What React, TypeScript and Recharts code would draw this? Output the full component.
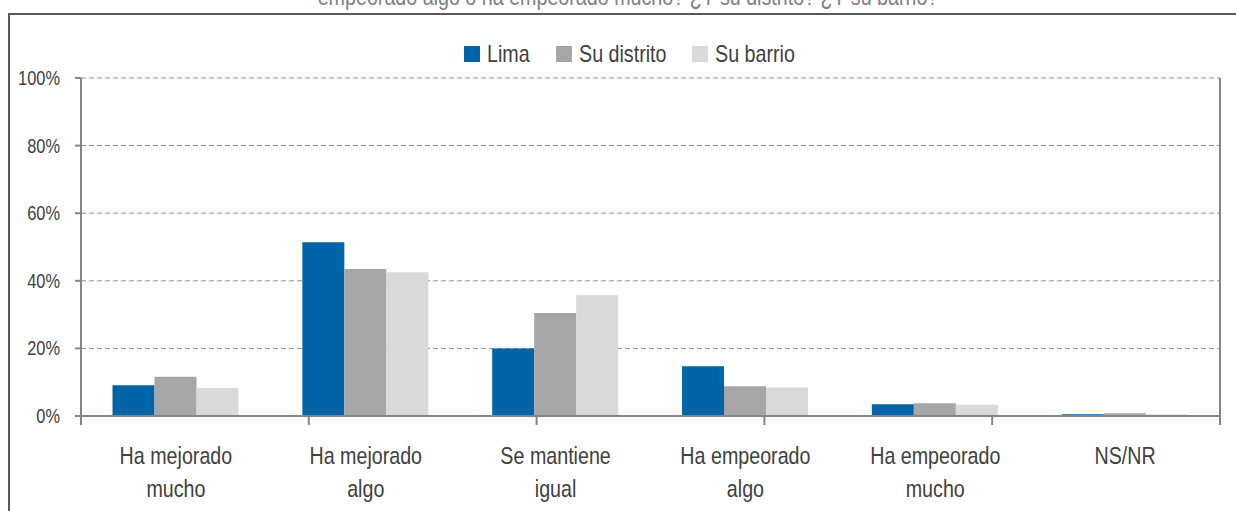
import React from "react";
import {
  BarChart,
  Bar,
  XAxis,
  YAxis,
  CartesianGrid,
  Legend,
} from "recharts";

const categories = [
  "Ha mejorado\nmucho",
  "Ha mejorado\nalgo",
  "Se mantiene\nigual",
  "Ha empeorado\nalgo",
  "Ha empeorado\nmucho",
  "NS/NR",
];
const lima = [0.091, 0.514, 0.2, 0.147, 0.035, 0.005];
const distrito = [0.116, 0.435, 0.305, 0.088, 0.038, 0.008];
const barrio = [0.083, 0.425, 0.357, 0.084, 0.033, 0.005];
const yTicks = [0, 0.2, 0.4, 0.6, 0.8, 1];
const boundaryTicks = [0, 1, 2, 3, 4, 5, 6];
const seriesKeys = ["lima", "distrito", "barrio"];
const seriesNames = ["Lima", "Su distrito", "Su barrio"];
const titleText =
  "empeorado algo o ha empeorado mucho? ¿Y su distrito? ¿Y su barrio?";

const data = categories.map((c, i) => ({
  cat: c,
  lima: lima[i],
  distrito: distrito[i],
  barrio: barrio[i],
}));

const FONT = '"Liberation Sans", Arial, sans-serif';
const SX = 0.82;
const TEXT = "#404040";
const AXIS = "#868686";
const COLORS = ["#0065A8", "#A6A6A6", "#D9D9D9"];

let measureCtx: CanvasRenderingContext2D | null = null;
function measure(text: string, size: number) {
  if (!measureCtx) {
    const c = document.createElement("canvas");
    measureCtx = c.getContext("2d");
  }
  if (!measureCtx) return text.length * size * 0.45;
  measureCtx.font = `${size}px ${FONT}`;
  return measureCtx.measureText(text).width;
}

const NarrowSpan = ({ text, size, color }: any) => {
  const w = measure(text, size) * SX;
  return (
    <span
      style={{
        display: "inline-block",
        width: w,
        height: size,
        lineHeight: `${size}px`,
        overflow: "visible",
        whiteSpace: "nowrap",
        position: "relative",
      }}
    >
      <span
        style={{
          position: "absolute",
          left: 0,
          top: 0,
          fontFamily: FONT,
          fontSize: size,
          lineHeight: `${size}px`,
          color,
          transform: `scaleX(${SX})`,
          transformOrigin: "left center",
          whiteSpace: "nowrap",
        }}
      >
        {text}
      </span>
    </span>
  );
};

const CatTick = (props: any) => {
  const { x, y, payload } = props;
  const lines = String(payload.value).split("\n");
  return (
    <g>
      {lines.map((l, i) => (
        <text
          key={i}
          transform={`translate(${x},${y + 47 + i * 33}) scale(${SX},1)`}
          x={0}
          y={0}
          textAnchor="middle"
          fill={TEXT}
          fontSize={24}
          fontFamily={FONT}
        >
          {l}
        </text>
      ))}
    </g>
  );
};

const YTick = (props: any) => {
  const { x, y, payload } = props;
  return (
    <text
      transform={`translate(${x},${y + 7}) scale(${SX},1)`}
      x={0}
      y={0}
      textAnchor="end"
      fill={TEXT}
      fontSize={20}
      fontFamily={FONT}
    >
      {`${Math.round(payload.value * 100)}%`}
    </text>
  );
};

const LegendContent = (props: any) => {
  const payload = [...(props.payload || [])].sort(
    (a: any, b: any) =>
      seriesKeys.indexOf(a.dataKey) - seriesKeys.indexOf(b.dataKey)
  );
  return (
    <div style={{ display: "flex", alignItems: "center", height: 24 }}>
      {payload.map((p: any, i: number) => (
        <div
          key={i}
          style={{
            display: "flex",
            alignItems: "center",
            marginRight: i < payload.length - 1 ? 26 : 0,
          }}
        >
          <div
            style={{ width: 16, height: 16, background: p.color, marginRight: 7 }}
          />
          <NarrowSpan text={p.value} size={24} color={TEXT} />
        </div>
      ))}
    </div>
  );
};

export default function App() {
  return (
    <div
      style={{
        position: "absolute",
        left: 0,
        top: 0,
        width: 1236,
        height: 511,
        overflow: "hidden",
        background: "#fff",
      }}
    >
      <div
        style={{
          position: "absolute",
          left: 0,
          width: 1256,
          top: -15,
          textAlign: "center",
          fontFamily: FONT,
          fontSize: 24,
          lineHeight: "24px",
          color: "#808080",
          whiteSpace: "nowrap",
          transform: `scaleX(${SX})`,
          transformOrigin: "628px 0",
        }}
      >
        {titleText}
      </div>
      <div
        style={{
          position: "absolute",
          left: 8,
          top: 13,
          width: 1400,
          height: 600,
          borderLeft: "2px solid #595959",
          borderTop: "2px solid #595959",
        }}
      />
      <div style={{ position: "absolute", left: 0, top: 0 }}>
        <BarChart
          width={1236}
          height={511}
          data={data}
          margin={{ top: 78, right: 16, bottom: 9, left: 21 }}
          barCategoryGap="16.6%"
          barGap={0}
        >
          <CartesianGrid
            vertical={false}
            stroke="#8C8C8C"
            strokeDasharray="5 3"
          />
          <CartesianGrid
            horizontal={false}
            stroke={AXIS}
            strokeWidth={2}
            verticalCoordinatesGenerator={(p: any) => [
              p.offset.left + p.offset.width,
            ]}
          />
          <XAxis
            xAxisId={0}
            type="number"
            domain={[0, 6]}
            ticks={boundaryTicks}
            allowDataOverflow
            height={1}
            tickSize={9}
            tickFormatter={() => ""}
            stroke={AXIS}
            axisLine={{ stroke: AXIS, strokeWidth: 2 }}
            tickLine={{ stroke: AXIS, strokeWidth: 2 }}
          />
          <XAxis
            xAxisId="cat"
            dataKey="cat"
            height={85}
            axisLine={false}
            tickLine={false}
            tickSize={0}
            tickMargin={0}
            interval={0}
            tick={<CatTick />}
          />
          <YAxis
            domain={[0, 1]}
            ticks={yTicks}
            width={60}
            tick={<YTick />}
            tickSize={6}
            tickMargin={15}
            axisLine={{ stroke: AXIS, strokeWidth: 2 }}
            tickLine={{ stroke: AXIS, strokeWidth: 2 }}
          />
          <Legend
            verticalAlign="middle"
            layout="horizontal"
            content={<LegendContent />}
            wrapperStyle={{ left: 464, top: 42, width: "auto" }}
          />
          <Bar
            xAxisId="cat"
            dataKey="lima"
            name={seriesNames[0]}
            fill={COLORS[0]}
            isAnimationActive={false}
          />
          <Bar
            xAxisId="cat"
            dataKey="distrito"
            name={seriesNames[1]}
            fill={COLORS[1]}
            isAnimationActive={false}
          />
          <Bar
            xAxisId="cat"
            dataKey="barrio"
            name={seriesNames[2]}
            fill={COLORS[2]}
            isAnimationActive={false}
          />
        </BarChart>
      </div>
    </div>
  );
}
